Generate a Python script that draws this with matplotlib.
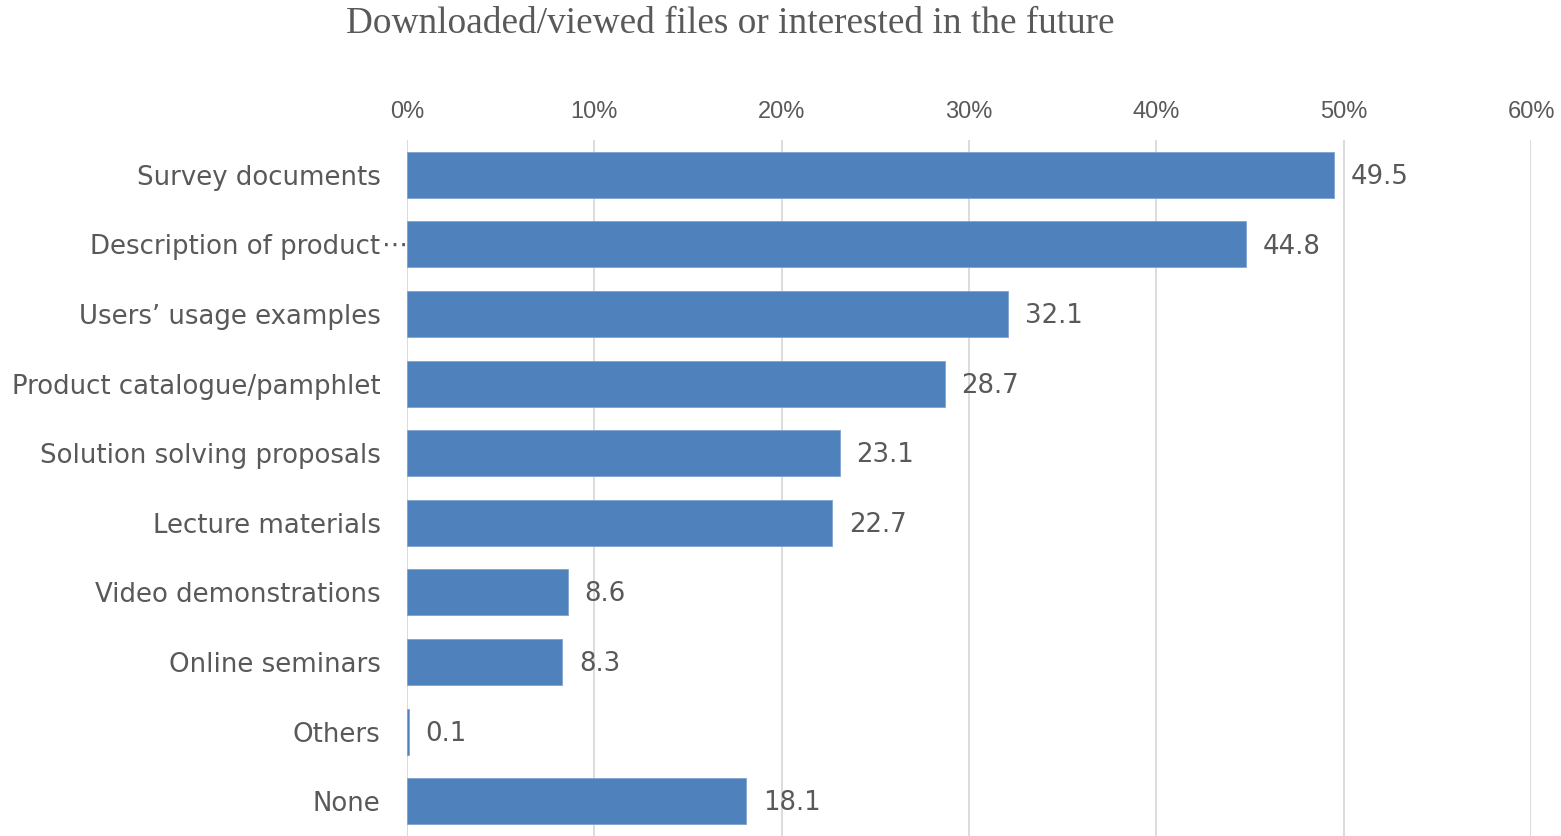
import matplotlib
matplotlib.use("Agg")
import matplotlib.pyplot as plt
from matplotlib.ticker import FuncFormatter

categories = [
    "Survey documents",
    "Description of product",
    "Users\u2019 usage examples",
    "Product catalogue/pamphlet",
    "Solution solving proposals",
    "Lecture materials",
    "Video demonstrations",
    "Online seminars",
    "Others",
    "None",
]
values = [49.5, 44.8, 32.1, 28.7, 23.1, 22.7, 8.6, 8.3, 0.1, 18.1]
x_ticks = [0, 10, 20, 30, 40, 50, 60]
title = "Downloaded/viewed files or interested in the future"

BAR = "#4F81BD"
TEXT = "#595959"
GRID = "#D9D9D9"

fig = plt.figure(figsize=(15.61, 8.36), dpi=100)
ax = fig.add_axes([0.2607, 0.0, 0.7201, 0.8325])

ypos = list(range(len(categories)))
ax.barh(ypos, values, height=0.66, color=BAR, edgecolor="#7FA3D0",
        linewidth=0.6, zorder=3)

ax.set_xlim(0, 60)
ax.set_ylim(len(categories) - 0.5, -0.5)
ax.set_xticks(x_ticks)
ax.xaxis.set_major_formatter(FuncFormatter(lambda v, p: f"{int(v)}%"))
ax.xaxis.tick_top()
ax.tick_params(axis="x", length=0, pad=12, labelsize=17, labelcolor=TEXT)
for lab in ax.get_xticklabels():
    lab.set_family("Liberation Sans")

ax.set_yticks(ypos)
ax.set_yticklabels(categories)
ax.tick_params(axis="y", length=0, pad=19, labelsize=18.7, labelcolor=TEXT)
for lab in ax.get_yticklabels():
    lab.set_family("DejaVu Sans")

# truncated category marker after the long label
ax.annotate("\u22ef", xy=(0, 1), xycoords=("axes fraction", "data"),
            xytext=(-18, -1), textcoords="offset points",
            ha="left", va="center", fontsize=18.7, color=TEXT,
            family="DejaVu Sans")

ax.grid(axis="x", color=GRID, linewidth=1.3, zorder=0)
ax.grid(axis="y", visible=False)
for s in ax.spines.values():
    s.set_visible(False)

for y, v in zip(ypos, values):
    ax.annotate(f"{v:.1f}", xy=(v, y), xytext=(12, -1.5),
                textcoords="offset points", ha="left", va="center",
                fontsize=18.7, color=TEXT, family="DejaVu Sans")

fig.text(0.468, 0.972, title, ha="center", va="center", fontsize=26.8,
         color=TEXT, family="Liberation Serif")

fig.savefig("out.png", dpi=100)
